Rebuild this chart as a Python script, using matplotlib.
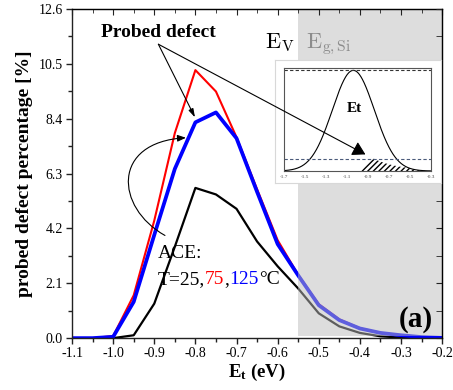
import numpy as np
import matplotlib
matplotlib.use("Agg")
import matplotlib.pyplot as plt
from matplotlib.ticker import MultipleLocator, FixedLocator
from matplotlib.patches import FancyArrowPatch
from matplotlib.path import Path

plt.rcParams["font.family"] = ["Liberation Serif", "DejaVu Serif"]
plt.rcParams["mathtext.fontset"] = "custom"
plt.rcParams["mathtext.rm"] = "Liberation Serif"
plt.rcParams["mathtext.bf"] = "Liberation Serif:bold"

# trap level grid (eV) and probed fraction per temperature
et = [-1.10, -1.05, -1.00, -0.95, -0.90, -0.85, -0.80, -0.75, -0.70, -0.65,
      -0.60, -0.55, -0.50, -0.45, -0.40, -0.35, -0.30, -0.25, -0.20]
probed_25c = [0.0, 0.0, 0.0, 0.11, 1.32, 3.5, 5.75, 5.5, 4.95, 3.7,
              2.75, 1.9, 0.95, 0.45, 0.2, 0.07, 0.02, 0.0, 0.0]
probed_75c = [0.0, 0.0, 0.08, 1.64, 4.5, 7.85, 10.26, 9.44, 7.69, 5.7,
              3.75, 2.42, 1.3, 0.72, 0.38, 0.2, 0.1, 0.04, 0.01]
probed_125c = [0.0, 0.0, 0.05, 1.39, 3.95, 6.48, 8.26, 8.64, 7.65, 5.6,
               3.6, 2.4, 1.26, 0.69, 0.37, 0.2, 0.11, 0.04, 0.01]

y_ticks = [0.0, 2.1, 4.2, 6.3, 8.4, 10.5, 12.6]
x_ticks = [-1.1, -1.0, -0.9, -0.8, -0.7, -0.6, -0.5, -0.4, -0.3, -0.2]
gap_start = -0.55  # valence band edge side of the Si gap

# sketch of the trap distribution in the inset
inset_ticks = [-1.7, -1.5, -1.3, -1.1, -0.9, -0.7, -0.5, -0.3]
et_center, et_sigma = -1.04, 0.2
probe_level = 0.122
probe_start, probe_peak, probe_peak_h, probe_decay = -0.968, -0.863, 0.132, 0.24

fig = plt.figure(figsize=(4.53, 3.90), dpi=100)
ax = fig.add_axes([0.159, 0.133, 0.817, 0.844])

ax.plot(et, probed_75c, color="#ff0000", lw=1.5, zorder=2)
ax.plot(et, probed_25c, color="#000000", lw=1.6, zorder=2)
ax.plot(et, probed_125c, color="#0000ff", lw=2.7, zorder=2)

# shaded gap region sits over the curves
ax.axvspan(gap_start, -0.2, ymin=0.006, ymax=1, color="#bcbcbc", alpha=0.5,
           lw=0, zorder=3)

ax.set_xlim(-1.1, -0.2)
ax.set_ylim(0, 12.6)
ax.xaxis.set_major_locator(FixedLocator(x_ticks))
ax.xaxis.set_minor_locator(MultipleLocator(0.05))
ax.yaxis.set_major_locator(FixedLocator(y_ticks))
ax.yaxis.set_minor_locator(MultipleLocator(1.05))
ax.set_xticklabels([f"{v:.1f}" for v in x_ticks])
ax.set_yticklabels([f"{v:.1f}" for v in y_ticks])
ax.tick_params(which="both", direction="out", labelsize=10, width=1.0,
               color="#222222", pad=2.5)
ax.tick_params(which="major", length=4.2)
ax.tick_params(which="minor", length=2.8)
for sp in ax.spines.values():
    sp.set_linewidth(1.0)
    sp.set_color("#222222")
    sp.set_zorder(5)

top = ax.secondary_xaxis("top")
top.xaxis.set_major_locator(FixedLocator(x_ticks))
top.xaxis.set_minor_locator(MultipleLocator(0.05))
top.tick_params(which="both", direction="in", labeltop=False, color="#222222")
top.tick_params(which="major", length=4.2)
top.tick_params(which="minor", length=2.8)
right = ax.secondary_yaxis("right")
right.yaxis.set_major_locator(FixedLocator(y_ticks))
right.yaxis.set_minor_locator(MultipleLocator(1.05))
right.tick_params(which="both", direction="in", labelright=False,
                  color="#222222", length=4.2)
top.set_zorder(6)
right.set_zorder(6)

ax.set_xlabel(r"$\mathbf{E_t}$ (eV)", fontsize=13.5, fontweight="bold", labelpad=1)
ax.set_ylabel("probed defect percentage [%]", fontsize=14,
              fontweight="bold", labelpad=4)

# annotations
ax.text(-0.891, 11.53, "Probed defect", fontsize=14, fontweight="bold",
        ha="center", va="baseline", zorder=6)
ax.text(-0.631, 11.11, r"$\mathrm{E}_\mathrm{V}$", fontsize=16,
        math_fontfamily="cm", va="baseline", zorder=6)
ax.text(-0.531, 11.11, r"$\mathrm{E}_\mathrm{g,Si}$", fontsize=16,
        math_fontfamily="cm", color="#8c8c8c", va="baseline", zorder=6)
ax.text(-0.222, 0.42, "(a)", fontsize=21, fontweight="bold",
        ha="right", va="baseline", zorder=6)

ax.text(-0.891, 3.05, "ACE:", fontsize=14, va="baseline", zorder=6)
t0 = ax.text(-0.891, 2.08, "T=25,", fontsize=14, va="baseline", zorder=6)
t1 = ax.annotate("75", xy=(1, 0), xycoords=t0, fontsize=14, color="#ff0000",
                 va="bottom", ha="left", zorder=6)
t2 = ax.annotate(",", xy=(1, 0), xycoords=t1, fontsize=14,
                 va="bottom", ha="left", zorder=6)
t3 = ax.annotate("125", xy=(1, 0), xycoords=t2, fontsize=14, color="#0000ff",
                 va="bottom", ha="left", zorder=6)
ax.annotate("°C", xy=(1, 0), xycoords=t3, fontsize=14,
            va="bottom", ha="left", zorder=6)

ax.annotate("", xy=(-0.801, 8.45), xytext=(-0.890, 11.25),
            arrowprops=dict(arrowstyle="-|>,head_length=0.5,head_width=0.15",
                            color="black", lw=0.8, shrinkA=0, shrinkB=0),
            zorder=6)

# curved pointer from the ACE label to the 125 °C curve
verts = [(-0.874, 3.93), (-0.995, 5.0), (-1.005, 7.5), (-0.823, 7.67)]
curve = Path(verts, [Path.MOVETO, Path.CURVE4, Path.CURVE4, Path.CURVE4])
ax.add_patch(FancyArrowPatch(path=curve,
                             arrowstyle="-|>,head_length=5,head_width=2",
                             color="black", lw=0.8, zorder=6))

# inset: trap energy distribution
box = fig.add_axes([0.607, 0.531, 0.366, 0.315])
box.set_xticks([])
box.set_yticks([])
box.set_facecolor("white")
for sp in box.spines.values():
    sp.set_color("#d8d8d8")
    sp.set_linewidth(0.8)
box.set_zorder(7)

ins = fig.add_axes([0.627, 0.5615, 0.3245, 0.264])
ins.set_zorder(8)
xg = np.linspace(-1.7, -0.3, 500)
gauss = np.exp(-0.5 * ((xg - et_center) / et_sigma) ** 2)
ins.plot(xg, gauss, color="black", lw=0.8)
ins.axhline(1.0, color="#333333", lw=0.8, ls=(0, (3, 2)))
ins.axhline(probe_level, color="#4a5a7a", lw=0.8, ls=(0, (3, 2)))

# probed slice of the distribution (hatched)
ramp = probe_peak_h * (xg - probe_start) / (probe_peak - probe_start)
decay = probe_peak_h * np.exp(-(xg - probe_peak) / probe_decay)
probed = np.minimum(np.minimum(ramp, decay), gauss)
mask = xg >= probe_start
ins.fill_between(xg[mask], 0, probed[mask],
                 facecolor="white", edgecolor="black", hatch="//////", lw=0)
ins.text(-1.03, 0.62, "Et", fontsize=11, fontweight="bold",
         ha="center", va="center")
ins.set_xlim(-1.7, -0.3)
ins.set_ylim(0, 1.023)
ins.set_xticks(inset_ticks)
ins.set_xticklabels([f"{v:.1f}" for v in inset_ticks])
ins.set_yticks([])
ins.tick_params(axis="x", length=0, labelsize=3.8, pad=3, labelcolor="#444444")
for sp in ins.spines.values():
    sp.set_color("#555555")
    sp.set_linewidth(0.8)

ins.annotate("", xy=(-0.925, 0.165), xycoords="data",
             xytext=(-0.890, 11.25), textcoords=ax.transData,
             arrowprops=dict(arrowstyle="-|>,head_length=0.6,head_width=0.35",
                             mutation_scale=13, color="black", lw=0.8,
                             shrinkA=0, shrinkB=0),
             annotation_clip=False)

fig.savefig("out.png", dpi=100)
